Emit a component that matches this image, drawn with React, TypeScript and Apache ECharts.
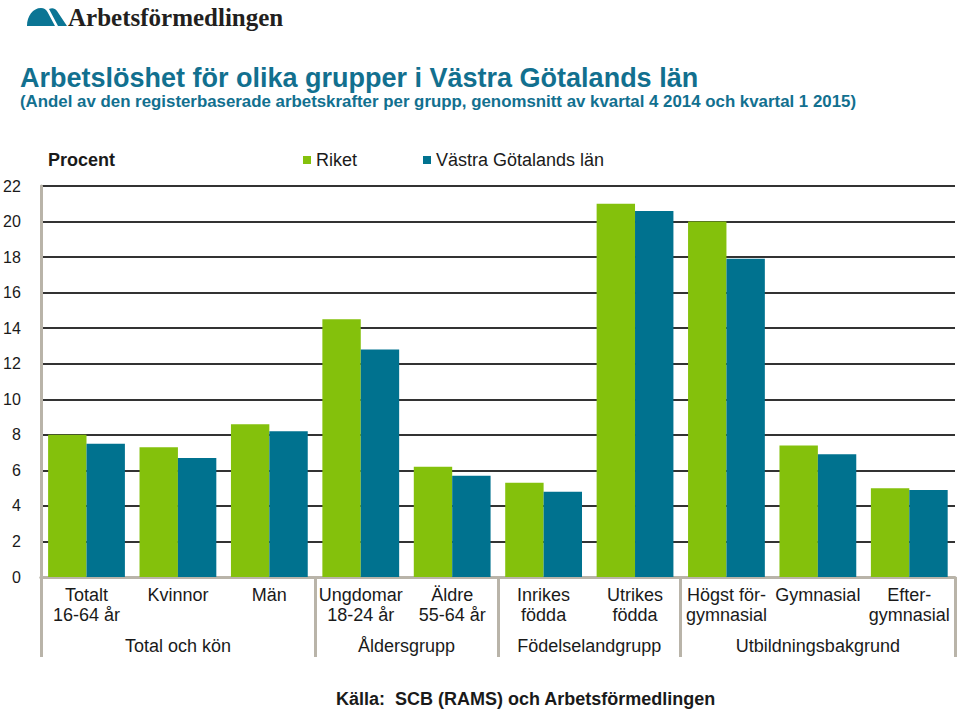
import React, { useEffect, useRef } from "react";
import * as echarts from "echarts";

const categories: string[] = [
  "Totalt\n16-64 år",
  "Kvinnor",
  "Män",
  "Ungdomar\n18-24 år",
  "Äldre\n55-64 år",
  "Inrikes\nfödda",
  "Utrikes\nfödda",
  "Högst för-\ngymnasial",
  "Gymnasial",
  "Efter-\ngymnasial",
];

const riket: number[] = [8.0, 7.3, 8.6, 14.5, 6.2, 5.3, 21.0, 20.0, 7.4, 5.0];
const vastraGotaland: number[] = [7.5, 6.7, 8.2, 12.8, 5.7, 4.8, 20.6, 17.9, 6.9, 4.9];

const groupLabels: { at: number; name: string }[] = [
  { at: 1.5, name: "Total och kön" },
  { at: 4, name: "Åldersgrupp" },
  { at: 6, name: "Födelselandgrupp" },
  { at: 8.5, name: "Utbildningsbakgrund" },
];
// category indices where a group starts (boundary ticks)
const groupStarts: number[] = [0, 3, 5, 7];

const seriesNames = ["Riket", "Västra Götalands län"];

const GREEN = "#84c10c";
const BLUE = "#00728f";
const TITLE_BLUE = "#12708f";
const BEIGE = "#b9b4a9";
const TXT = "#1a1a1a";
const FONT = "Arial, 'Liberation Sans', sans-serif";

const LOGO_D =
  "M0 19 C0 9 6 1 14 1 C17 1 19 2.5 20.5 5 L28 19 Z M22 2 C25 0.5 28 1 30 4 L40 19 L31 19 Z";

let registered = false;
function registerLogo() {
  if (registered) return;
  registered = true;
  echarts.graphic.registerShape("logo", echarts.graphic.extendPath(LOGO_D, {}) as any);
}

export default function App() {
  const ref = useRef<HTMLDivElement>(null);

  useEffect(() => {
    if (!ref.current) return;
    registerLogo();
    const chart = echarts.init(ref.current, undefined, { renderer: "svg" });
    const option: any = {
      animation: false,
      backgroundColor: "#ffffff",
      title: [
        {
          text: "Arbetslöshet för olika grupper i Västra Götalands län",
          left: 20,
          top: 64,
          padding: 0,
          textStyle: { fontFamily: FONT, fontSize: 27, fontWeight: "bold", color: TITLE_BLUE },
        },
        {
          text: "(Andel av den registerbaserade arbetskrafter per grupp, genomsnitt av kvartal 4 2014 och kvartal 1 2015)",
          left: 20,
          top: 93,
          padding: 0,
          textStyle: { fontFamily: FONT, fontSize: 16.85, fontWeight: "bold", color: TITLE_BLUE },
        },
        {
          text: "Procent",
          left: 48,
          top: 151,
          padding: 0,
          textStyle: { fontFamily: FONT, fontSize: 18, fontWeight: "bold", color: TXT },
        },
        {
          text: "Källa:  SCB (RAMS) och Arbetsförmedlingen",
          left: 336,
          top: 690,
          padding: 0,
          textStyle: { fontFamily: FONT, fontSize: 18, fontWeight: "bold", color: TXT },
        },
      ],
      legend: {
        left: 303,
        top: 151,
        padding: 0,
        itemWidth: 8,
        itemHeight: 8,
        itemGap: 66,
        icon: "rect",
        data: seriesNames,
        textStyle: { fontFamily: FONT, fontSize: 18, color: TXT },
      },
      graphic: [
        {
          type: "logo",
          x: 27,
          y: 7,
          shape: {},
          style: { fill: "#0b7594" },
        },
        {
          type: "text",
          x: 68,
          y: 5,
          style: {
            text: "Arbetsförmedlingen",
            fill: "#231f20",
            font: "bold 25px 'Liberation Serif', 'Times New Roman', serif",
            verticalAlign: "top",
          },
        },
      ],
      grid: { left: 40, right: 5, top: 186, bottom: 134, containLabel: false },
      xAxis: [
        {
          type: "category",
          data: categories,
          axisLine: { show: true, lineStyle: { color: BEIGE, width: 3 } },
          axisTick: {
            show: true,
            length: 80,
            interval: (index: number) => groupStarts.indexOf(index) >= 0,
            lineStyle: { color: BEIGE, width: 3 },
          },
          axisLabel: {
            interval: 0,
            margin: 8,
            fontFamily: FONT,
            fontSize: 18,
            lineHeight: 20,
            color: TXT,
          },
          splitLine: { show: false },
        },
        {
          type: "value",
          position: "bottom",
          offset: 51,
          min: 0,
          max: 10,
          interval: 0.5,
          axisLine: { show: false },
          axisTick: { show: false },
          splitLine: { show: false },
          axisLabel: {
            margin: 8,
            fontFamily: FONT,
            fontSize: 18,
            lineHeight: 20,
            color: TXT,
            showMinLabel: true,
            showMaxLabel: true,
            formatter: (v: number) => {
              const g = groupLabels.find((x) => Math.abs(x.at - v) < 1e-6);
              return g ? g.name : "";
            },
          },
        },
      ],
      yAxis: {
        type: "value",
        min: 0,
        max: 22,
        interval: 2,
        axisLine: { show: true, lineStyle: { color: BEIGE, width: 3 } },
        axisTick: { show: false },
        axisLabel: { margin: 20, fontFamily: FONT, fontSize: 16, color: TXT },
        splitLine: { show: true, lineStyle: { color: "#333333", width: 2 } },
      },
      series: [
        {
          name: seriesNames[0],
          type: "bar",
          xAxisIndex: 0,
          data: riket,
          itemStyle: { color: GREEN },
          barGap: "0%",
          barCategoryGap: "16%",
        },
        {
          name: seriesNames[1],
          type: "bar",
          xAxisIndex: 0,
          data: vastraGotaland,
          itemStyle: { color: BLUE },
          barGap: "0%",
          barCategoryGap: "16%",
        },
      ],
    };
    chart.setOption(option);
    return () => chart.dispose();
  }, []);

  return (
    <div
      ref={ref}
      style={{ position: "fixed", left: 0, top: 0, width: 960, height: 711, background: "#fff" }}
    />
  );
}
